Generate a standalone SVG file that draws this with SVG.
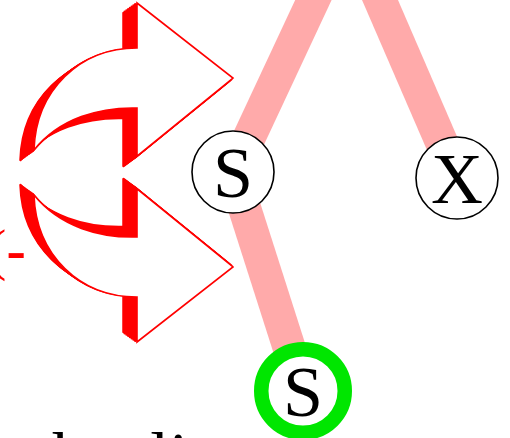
<svg xmlns="http://www.w3.org/2000/svg" xmlns:xlink="http://www.w3.org/1999/xlink" width="510" height="438" viewBox="0 0 510 438">
<style>
.edge{stroke:#ffaaaa;stroke-width:33;fill:none;stroke-linecap:butt}
.node circle{fill:#fff;stroke:#000;stroke-width:1.6}
.goal circle{fill:#fff;stroke:#00e600;stroke-width:14.5}
.lbl{font-family:"Liberation Serif","Times New Roman",serif;font-size:72px;fill:#000;text-anchor:middle}
.ext{fill:#ff0000;stroke:#ff0000;stroke-width:2.5;stroke-linejoin:round}
.face{fill:#fff;stroke:#ff0000;stroke-width:1.6;stroke-linejoin:miter}
.red{font-family:"Liberation Serif","Times New Roman",serif;font-size:58px;fill:#ff0000}
.body{font-family:"Liberation Serif","Times New Roman",serif;font-size:68px;fill:#000}
</style>
<defs>
<path id="ap" d="M137,3 L233,78 L137,156 L137,108 C100,107 60,118 34,150 C36,90 80,48 137,48 Z"/>
<g id="arrow">
<use xlink:href="#ap" class="ext" transform="translate(-1.75,1.25)"/>
<use xlink:href="#ap" class="ext" transform="translate(-3.5,2.5)"/>
<use xlink:href="#ap" class="ext" transform="translate(-5.25,3.75)"/>
<use xlink:href="#ap" class="ext" transform="translate(-7,5)"/>
<use xlink:href="#ap" class="ext" transform="translate(-8.75,6.25)"/>
<use xlink:href="#ap" class="ext" transform="translate(-10.5,7.5)"/>
<use xlink:href="#ap" class="ext" transform="translate(-12.25,8.75)"/>
<use xlink:href="#ap" class="ext" transform="translate(-13.5,10)"/>
<use xlink:href="#ap" class="face"/>
</g>
</defs>
<rect width="510" height="438" fill="#fff"/>
<g id="connectors">
<line class="edge" x1="348" y1="-74" x2="233" y2="172"/>
<line class="edge" x1="348" y1="-74" x2="457" y2="178"/>
<line class="edge" x1="233" y1="172" x2="303" y2="391"/>
</g>
<g id="fork-arrows">
<use xlink:href="#arrow"/>
<use xlink:href="#arrow" transform="matrix(1,0,0,-1,0,345)"/>
</g>
<g id="node-S1" class="node">
<circle cx="233" cy="172" r="41"/>
<text class="lbl" x="233" y="197">S</text>
</g>
<g id="node-X" class="node">
<circle cx="457" cy="178" r="41"/>
<text class="lbl" x="457" y="203">X</text>
</g>
<g id="node-S2" class="goal">
<circle cx="303" cy="391" r="41.75"/>
<text class="lbl" x="303" y="416">S</text>
</g>
<text class="red" y="269"><tspan x="-13">(</tspan><tspan x="6.5" font-weight="bold">-</tspan></text>
<text class="body" x="-38.6" y="479">such a line</text>
</svg>
